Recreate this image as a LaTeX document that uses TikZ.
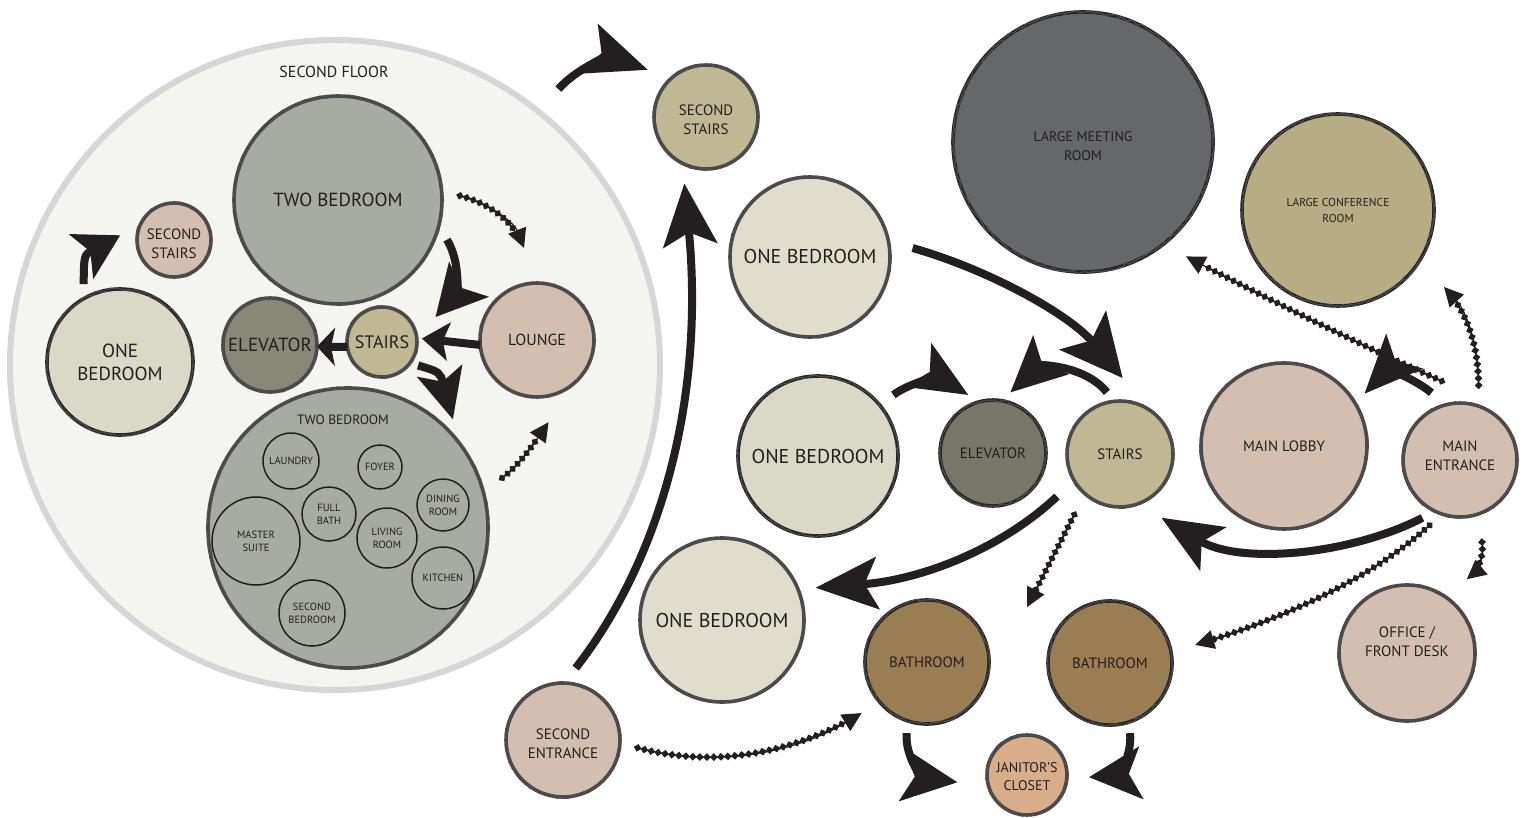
\documentclass[tikz,border=0pt]{standalone}
\usepackage{fontspec}
\setmainfont{PT Sans}
\usetikzlibrary{arrows.meta,calc,decorations.markings,decorations.pathmorphing}
\definecolor{ink}{HTML}{231F20}
\definecolor{rimc}{HTML}{4D4A4B}
\definecolor{rimd}{HTML}{2A2728}
\definecolor{floorfill}{HTML}{F4F5F0}
\definecolor{floorrim}{HTML}{D6D6D6}
\definecolor{twobed}{HTML}{A8ABA1}
\definecolor{pinkbeige}{HTML}{D3BFB0}
\definecolor{onebedA}{HTML}{DAD8C6}
\definecolor{onebedB}{HTML}{E0DDCD}
\definecolor{elevA}{HTML}{878878}
\definecolor{elevB}{HTML}{767769}
\definecolor{stairc}{HTML}{BFB892}
\definecolor{meetc}{HTML}{656769}
\definecolor{confc}{HTML}{B7AD85}
\definecolor{bathc}{HTML}{9A7E53}
\definecolor{janc}{HTML}{D8AD8A}
\newcommand\fsz[2]{\fontsize{#1}{#2}\selectfont}
\newcommand\movetxt[2]{\raisebox{#1}[\height][\depth]{\begin{tabular}{@{}c@{}}#2\end{tabular}}}
\tikzset{
  room/.style={circle, draw=rimc, line width=3.6pt, inner sep=0pt, text=ink, align=center,
    postaction={draw=rimc, line width=1.2pt, decorate, decoration={random steps, segment length=3pt, amplitude=1.4pt}}},
  darkrim/.style={draw=rimd},
  inroom/.style={circle, draw=ink, line width=1.5pt, inner sep=0pt, text=ink, align=center, font=\fsz{10.5}{13}},
  bigarrow/.style={draw=ink, line width=8pt},
  dotarrow/.style={draw=ink, line width=1.2pt, -{Triangle[length=19pt,width=19pt]},
    postaction={decorate},
    decoration={markings, mark=between positions 0 and -19pt step 7pt with {\fill[ink] (-3.9pt,0pt)--(0pt,3.9pt)--(3.9pt,0pt)--(0pt,-3.9pt)--cycle;}}}
}
\begin{document}
\begin{tikzpicture}[x=1pt,y=-1pt]
\useasboundingbox (0,0) rectangle (1530,818);
\fill[white] (0,0) rectangle (1530,818);

% second floor container
\node[circle, fill=floorfill, draw=floorrim, line width=6pt, minimum size=650pt, inner sep=0pt] (floor2) at (335,365) {};
\node[text=ink, font=\fsz{16}{19}] (flab) at (334,72) {SECOND FLOOR};

% second floor rooms
\node[room, fill=twobed, minimum size=208pt, font=\fsz{19}{23}] (tb1) at (338,200) {TWO BEDROOM};
\node[room, fill=pinkbeige, minimum size=74pt, font=\fsz{15}{19}] (ss1) at (174,240) {\movetxt{-5pt}{SECOND\\STAIRS}};
\node[room, darkrim, fill=onebedA, minimum size=146pt, font=\fsz{19}{23}] (ob1L) at (120,362) {ONE\\BEDROOM};
\node[room, fill=elevA, minimum size=94pt, font=\fsz{19}{23}] (elL) at (270,345) {ELEVATOR};
\node[room, fill=stairc, minimum size=70pt, font=\fsz{18}{22}] (stL) at (382,342) {STAIRS};
\node[room, fill=pinkbeige, minimum size=114pt, font=\fsz{16}{19}] (lounge) at (537,340) {LOUNGE};
\node[room, fill=twobed, minimum size=280pt] (tb2) at (348,528) {};
\node[text=ink, font=\fsz{13.5}{16}] (tb2lab) at (343,420) {TWO BEDROOM};
\node[inroom, minimum size=56pt] (laundry) at (291,461) {LAUNDRY};
\node[inroom, minimum size=44pt] (foyer) at (380,467) {FOYER};
\node[inroom, minimum size=54pt] (fullbath) at (329,514) {FULL\\BATH};
\node[inroom, minimum size=52pt] (dining) at (443,505) {DINING\\ROOM};
\node[inroom, minimum size=88pt] (master) at (256,541) {MASTER\\SUITE};
\node[inroom, minimum size=60pt] (living) at (387,538) {LIVING\\ROOM};
\node[inroom, minimum size=62pt] (kitchen) at (443,578) {KITCHEN};
\node[inroom, minimum size=66pt] (secbed) at (312,613) {SECOND\\BEDROOM};

% first floor rooms
\node[room, fill=stairc, minimum size=104pt, font=\fsz{15}{19}] (ss2) at (706,117) {\movetxt{-4pt}{SECOND\\STAIRS}};
\node[room, fill=onebedB, minimum size=160pt, font=\fsz{20}{24}] (ob1T) at (810,257) {ONE BEDROOM};
\node[room, darkrim, fill=meetc, minimum size=260pt, font=\fsz{14}{19}] (lm) at (1083,142) {\movetxt{-5pt}{LARGE MEETING\\ROOM}};
\node[room, darkrim, fill=confc, minimum size=192pt, font=\fsz{11.5}{16}] (lc) at (1338,210) {LARGE CONFERENCE\\ROOM};
\node[room, darkrim, fill=onebedA, minimum size=160pt, font=\fsz{20}{24}] (ob1M) at (818,456) {ONE BEDROOM};
\node[room, darkrim, fill=elevB, minimum size=106pt, font=\fsz{15}{19}] (elR) at (993,453) {ELEVATOR};
\node[room, fill=stairc, minimum size=106pt, font=\fsz{15}{19}] (stR) at (1120,454) {STAIRS};
\node[room, fill=pinkbeige, minimum size=166pt, font=\fsz{15}{19}] (lobby) at (1284,446) {MAIN LOBBY};
\node[room, fill=pinkbeige, minimum size=114pt, font=\fsz{15}{19}] (me) at (1460,460) {\movetxt{3pt}{MAIN\\ENTRANCE}};
\node[room, fill=onebedB, minimum size=164pt, font=\fsz{20}{24}] (ob1B) at (722,620) {ONE BEDROOM};
\node[room, darkrim, fill=bathc, minimum size=124pt, font=\fsz{15}{19}] (bath1) at (927,662) {BATHROOM};
\node[room, darkrim, fill=bathc, minimum size=124pt, font=\fsz{15}{19}] (bath2) at (1110,663) {BATHROOM};
\node[room, fill=janc, minimum size=80pt, font=\fsz{14}{18}] (jan) at (1027,775) {\movetxt{-3pt}{JANITOR'S\\CLOSET}};
\node[room, fill=pinkbeige, minimum size=114pt, font=\fsz{15}{19}] (se) at (563,740) {\movetxt{-5pt}{SECOND\\ENTRANCE}};
\node[room, fill=pinkbeige, minimum size=136pt, font=\fsz{15}{19}] (office) at (1407,653) {\movetxt{10pt}{OFFICE /\\FRONT DESK}};

% solid arrows
\draw[bigarrow, -{Stealth[length=44pt,width=50pt,inset=10pt]}] ($(ob1L.center)!86pt!(ob1L.115)$) .. controls (84,255) .. ($(ss1.center)!54pt!(ss1.175)$);
\draw[bigarrow, -{Stealth[length=50pt,width=52pt,inset=11pt]}] ($(tb1.center)!116pt!(tb1.-20)$) .. controls (462,265) and (455,295) .. ($(stL.center)!59pt!(stL.25)$);
\draw[bigarrow, -{Stealth[length=18pt,width=38pt,inset=4pt]}] ($(stL.center)!35pt!(stL.188)$) -- ($(elL.center)!47pt!(elL.-2)$);
\draw[bigarrow, -{Stealth[length=27pt,width=38pt,inset=6pt]}] ($(lounge.center)!57pt!(lounge.185)$) -- ($(stL.center)!40pt!(stL.5)$);
\draw[bigarrow, -{Stealth[length=50pt,width=46pt,inset=11pt]}] ($(stL.center)!43pt!(stL.-33)$) .. controls (440,372) .. ($(tb2.center)!151pt!(tb2.46)$);
\draw[bigarrow, -{Stealth[length=62pt,width=52pt,inset=13pt]}] ($(floor2.center)!355pt!(floor2.51.5)$) .. controls (580,65) and (612,57) .. ($(ss2.center)!75pt!(ss2.141)$);
\draw[bigarrow, -{Stealth[length=62pt,width=54pt,inset=13pt]}] ($(se.center)!73pt!(se.80.5)$) .. controls (660,560) and (705,400) .. ($(ss2.center)!70pt!(ss2.252)$);
\draw[bigarrow, -{Stealth[length=62pt,width=60pt,inset=13pt]}] ($(ob1T.center)!103pt!(ob1T.5.5)$) .. controls (990,270) and (1070,315) .. ($(stR.center)!76pt!(stR.88.5)$);
\draw[bigarrow, -{Stealth[length=58pt,width=50pt,inset=13pt]}] ($(ob1M.center)!97pt!(ob1M.39)$) .. controls (910,382) and (940,378) .. ($(elR.center)!63pt!(elR.113)$);
\draw[bigarrow, -{Stealth[length=55pt,width=52pt,inset=12pt]}] ($(stR.center)!63pt!(stR.102)$) .. controls (1085,365) and (1040,365) .. ($(elR.center)!63pt!(elR.74)$);
\draw[bigarrow, -{Stealth[length=62pt,width=52pt,inset=13pt]}] ($(stR.center)!76pt!(stR.214)$) .. controls (1000,550) and (920,580) .. ($(ob1B.center)!99pt!(ob1B.19.5)$);
\draw[bigarrow, -{Stealth[length=60pt,width=50pt,inset=13pt]}] ($(me.center)!69pt!(me.237.5)$) .. controls (1350,555) and (1240,565) .. ($(stR.center)!76pt!(stR.-57)$);
\draw[bigarrow, -{Stealth[length=58pt,width=50pt,inset=13pt]}] ($(me.center)!73pt!(me.113)$) .. controls (1410,375) and (1385,372) .. ($(lobby.center)!96pt!(lobby.33.5)$);
\draw[bigarrow, -{Stealth[length=55pt,width=52pt,inset=12pt]}] ($(bath1.center)!74pt!(bath1.254)$) .. controls (905,760) and (925,778) .. ($(jan.center)!70pt!(jan.186)$);
\draw[bigarrow, -{Stealth[length=52pt,width=52pt,inset=12pt]}] ($(bath2.center)!73pt!(bath2.-74)$) .. controls (1132,760) and (1115,775) .. ($(jan.center)!62pt!(jan.-2)$);

% dotted arrows
\draw[dotarrow] ($(tb1.center)!122pt!(tb1.2)$) .. controls (495,205) and (515,225) .. ($(lounge.center)!93pt!(lounge.98)$);
\draw[dotarrow] ($(tb2.center)!162pt!(tb2.18)$) .. controls (520,465) and (535,442) .. ($(lounge.center)!83pt!(lounge.-82)$);
\draw[dotarrow] ($(me.center)!81pt!(me.103)$) .. controls (1360,345) and (1260,295) .. ($(lm.center)!154pt!(lm.-48)$);
\draw[dotarrow] ($(me.center)!77pt!(me.76.5)$) .. controls (1478,340) and (1465,310) .. ($(lc.center)!131pt!(lc.-36)$);
\draw[dotarrow] ($(me.center)!85pt!(me.-75)$) .. controls (1484,558) and (1478,570) .. ($(office.center)!95pt!(office.51)$);
\draw[dotarrow] ($(me.center)!72pt!(me.245)$) .. controls (1370,580) and (1280,620) .. ($(bath2.center)!87pt!(bath2.12)$);
\draw[dotarrow] ($(stR.center)!76pt!(stR.233)$) -- ($(bath2.center)!100pt!(bath2.146)$);
\draw[dotarrow] ($(se.center)!75pt!(se.-6)$) .. controls (720,770) and (800,750) .. ($(bath1.center)!83pt!(bath1.218)$);
\end{tikzpicture}
\end{document}
